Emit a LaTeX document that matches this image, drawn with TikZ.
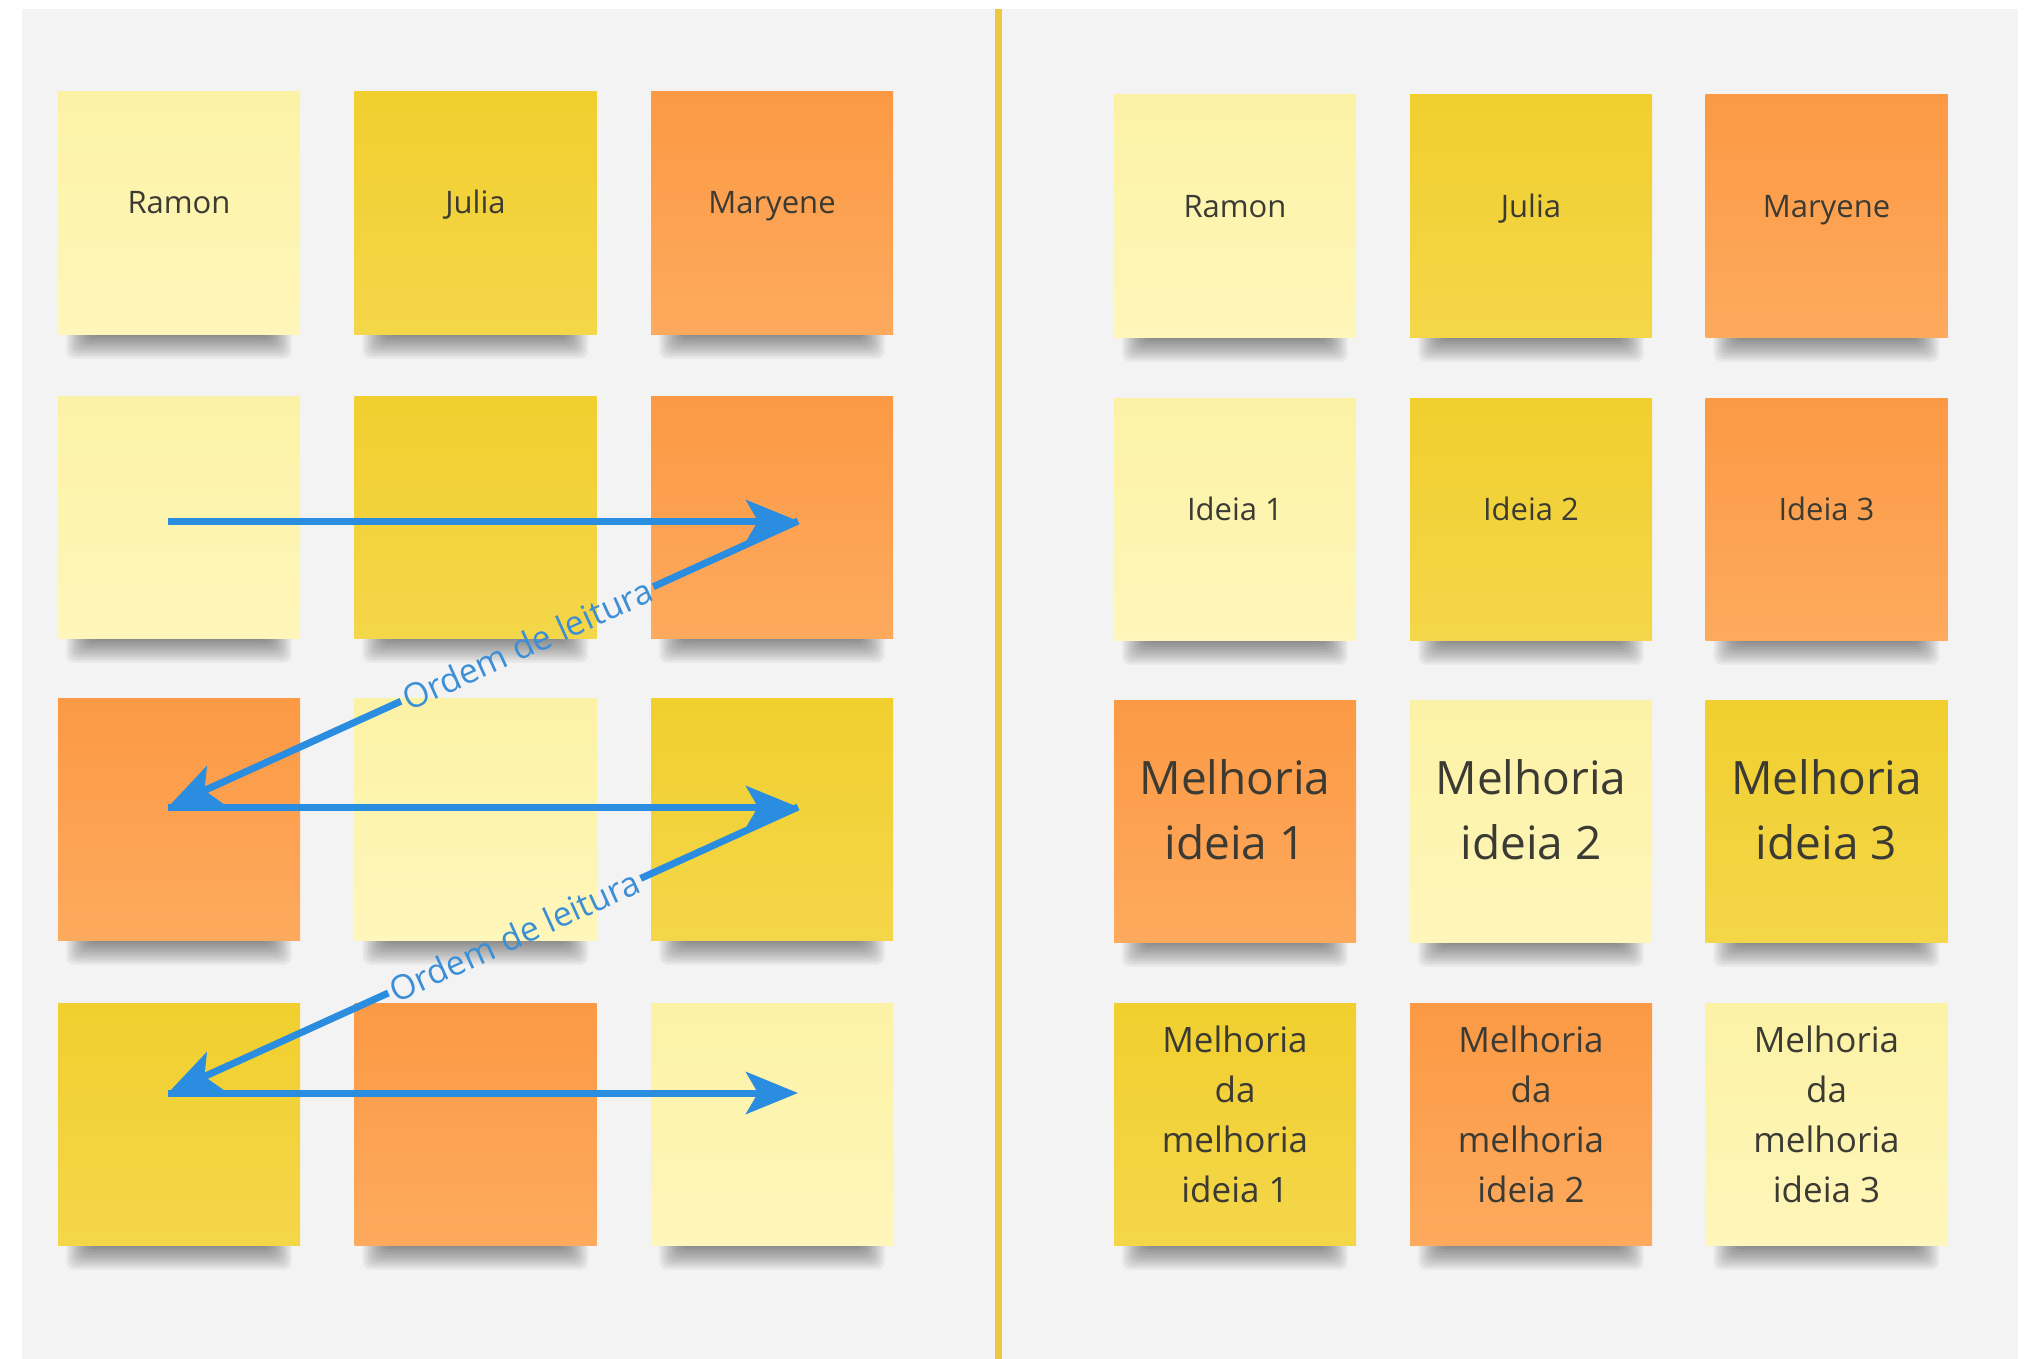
\documentclass[tikz,border=0pt]{standalone}
\usepackage{fontspec}
\setmainfont{Open Sans}
\usetikzlibrary{arrows.meta,calc,backgrounds}

\definecolor{panelgrey}{HTML}{F3F3F3}
\definecolor{dividergold}{HTML}{EEC93F}
\definecolor{paletop}{HTML}{FCF2A6}
\definecolor{palebot}{HTML}{FEF6BA}
\definecolor{goldtop}{HTML}{F1CF2E}
\definecolor{goldbot}{HTML}{F4D64A}
\definecolor{orangetop}{HTML}{FC9944}
\definecolor{orangebot}{HTML}{FDAA5E}
\definecolor{inkgrey}{HTML}{3B3A33}
\definecolor{arrowblue}{HTML}{2A8DE0}
\definecolor{labelblue}{HTML}{3C8FD6}

\tikzset{
  postit/.style={minimum width=242pt, minimum height=242pt, inner sep=0pt,
    text=inkgrey, font=\fontsize{31}{40}\selectfont},
  notepale/.style={postit, top color=paletop, bottom color=palebot},
  notegold/.style={postit, top color=goldtop, bottom color=goldbot},
  noteorange/.style={postit, top color=orangetop, bottom color=orangebot},
  bigtext/.style={font=\fontsize{46}{65}\selectfont},
  midtext/.style={font=\fontsize{35}{50}\selectfont},
  readline/.style={draw=arrowblue, line width=7pt},
  readarrow/.style={readline, -{Stealth[length=52pt,width=42pt,inset=12pt]}},
  readlabel/.style={text=labelblue, font=\fontsize{34}{40}\selectfont}
}

% text sits a little above the middle of a note
\newcommand\notetext[1]{\raisebox{0pt}[\height][\dimexpr\depth+14pt\relax]{%
  \begin{tabular}{@{}c@{}}#1\end{tabular}}}

\newcommand\noteshadow[1]{%
  \foreach \k in {1,...,10}
    \fill[black, opacity=0.05, rounded corners=8pt]
      ($(#1.south west)+(6+2.5*\k,-8)$) rectangle ($(#1.south east)+(-6-2.5*\k,27-2.5*\k)$);}

\begin{document}
\begin{tikzpicture}[x=1pt, y=-1pt]
      \useasboundingbox (0,0) rectangle (2028,1359);

      % left board
      \node[notepale]   (l11) at (179,213)   {\notetext{Ramon}};
      \node[notegold]   (l12) at (475.5,213) {\notetext{Julia}};
      \node[noteorange] (l13) at (772,213)   {\notetext{Maryene}};
      \node[notepale]   (l21) at (179,517)   {};
      \node[notegold]   (l22) at (475.5,517) {};
      \node[noteorange] (l23) at (772,517)   {};
      \node[noteorange] (l31) at (179,819)   {};
      \node[notepale]   (l32) at (475.5,819) {};
      \node[notegold]   (l33) at (772,819)   {};
      \node[notegold]   (l41) at (179,1124)  {};
      \node[noteorange] (l42) at (475.5,1124) {};
      \node[notepale]   (l43) at (772,1124)  {};

      % right board
      \node[notepale]   (r11) at (1235,216)   {\notetext{Ramon}};
      \node[notegold]   (r12) at (1531,216)   {\notetext{Julia}};
      \node[noteorange] (r13) at (1826.5,216) {\notetext{Maryene}};
      \node[notepale]   (r21) at (1235,519)   {\notetext{Ideia 1}};
      \node[notegold]   (r22) at (1531,519)   {\notetext{Ideia 2}};
      \node[noteorange] (r23) at (1826.5,519) {\notetext{Ideia 3}};
      \node[noteorange, bigtext] (r31) at (1235,821)   {\notetext{Melhoria\\ideia 1}};
      \node[notepale, bigtext]   (r32) at (1531,821)   {\notetext{Melhoria\\ideia 2}};
      \node[notegold, bigtext]   (r33) at (1826.5,821) {\notetext{Melhoria\\ideia 3}};
      \node[notegold, midtext]   (r41) at (1235,1124)   {\notetext{Melhoria\\da\\melhoria\\ideia 1}};
      \node[noteorange, midtext] (r42) at (1531,1124)   {\notetext{Melhoria\\da\\melhoria\\ideia 2}};
      \node[notepale, midtext]   (r43) at (1826.5,1124) {\notetext{Melhoria\\da\\melhoria\\ideia 3}};

      \begin{pgfonlayer}{background}
        \fill[white] (0,0) rectangle (2028,1359);
        \fill[panelgrey] (22,9) rectangle (2018,1359);
        \foreach \n in {l11,l12,l13,l21,l22,l23,l31,l32,l33,l41,l42,l43,
                        r11,r12,r13,r21,r22,r23,r31,r32,r33,r41,r42,r43}
          {\noteshadow{\n}}
      \end{pgfonlayer}

      \draw[dividergold, line width=7pt] (998,9) -- (998,1359);

      % reading order
      \coordinate (a2s) at (168,521);
      \coordinate (a2e) at (798,521);
      \coordinate (a3s) at (168,807);
      \coordinate (a3e) at (798,807);
      \coordinate (a4s) at (168,1093);
      \coordinate (a4e) at (798,1093);

      \draw[readarrow] (a2s) -- (a2e);
      \path (a2e) -- node[readlabel, sloped, pos=0.43] (o1) {Ordem de leitura} (a3s);
      \draw[readline] (a2e) -- (o1.east);
      \draw[readarrow] (o1.west) -- (a3s);
      \draw[readarrow] (a3s) -- (a3e);
      \path (a3e) -- node[readlabel, sloped, pos=0.45] (o2) {Ordem de leitura} (a4s);
      \draw[readline] (a3e) -- (o2.east);
      \draw[readarrow] (o2.west) -- (a4s);
      \draw[readarrow] (a4s) -- (a4e);
   \end{tikzpicture}
\end{document}
